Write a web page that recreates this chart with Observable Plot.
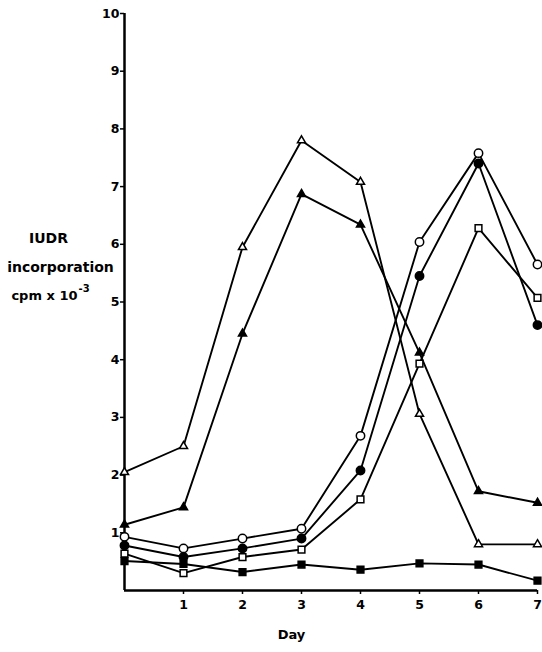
<!DOCTYPE html>
<html>
<head>
<meta charset="utf-8">
<script src="https://cdn.jsdelivr.net/npm/d3@7"></script>
<script src="https://cdn.jsdelivr.net/npm/@observablehq/plot@0.6"></script>
<style>
  html, body { margin: 0; padding: 0; background: #fff; }
  #chart svg { display: block; }
</style>
</head>
<body>
<div id="chart"></div>
<script>
const days = [0, 1, 2, 3, 4, 5, 6, 7];
const openTriangle  = [2.05, 2.5, 5.95, 7.8, 7.08, 3.06, 0.8, 0.8];
const filledTriangle = [1.14, 1.44, 4.45, 6.87, 6.34, 4.12, 1.72, 1.52];
const openCircle    = [0.93, 0.73, 0.9, 1.07, 2.68, 6.04, 7.58, 5.65];
const filledCircle  = [0.78, 0.58, 0.73, 0.9, 2.08, 5.45, 7.4, 4.6];
const openSquare    = [0.64, 0.3, 0.58, 0.71, 1.58, 3.93, 6.28, 5.07];
const filledSquare  = [0.51, 0.46, 0.32, 0.45, 0.36, 0.47, 0.45, 0.17];
const xTicks = [1, 2, 3, 4, 5, 6, 7];
const yTicks = [1, 2, 3, 4, 5, 6, 7, 8, 9, 10];
const yLabelLines = ["IUDR", "incorporation"];
const yLabelUnit = "cpm x 10";
const yLabelExp = "-3";
const xLabel = "Day";

const seriesDefs = [
  {name: "openTriangle", values: openTriangle, symbol: "triangle", filled: false, r: 3},
  {name: "filledTriangle", values: filledTriangle, symbol: "triangle", filled: true, r: 3},
  {name: "openCircle", values: openCircle, symbol: "circle", filled: false, r: 4.2},
  {name: "filledCircle", values: filledCircle, symbol: "circle", filled: true, r: 4.2},
  {name: "openSquare", values: openSquare, symbol: "square", filled: false, r: 3.8},
  {name: "filledSquare", values: filledSquare, symbol: "square", filled: true, r: 3.8}
];

const rows = seriesDefs.flatMap(s => days.map((d, i) => ({series: s.name, day: d, value: s.values[i]})));

const font = "'DejaVu Sans', 'Liberation Sans', Arial, sans-serif";

const marks = [
  Plot.axisX(xTicks, {tickSize: 4, tickPadding: 6, fontSize: 12.5, fontWeight: "bold", label: null, strokeWidth: 1.5, tickFormat: d => String(d)}),
  Plot.axisY(yTicks, {tickSize: 4, tickPadding: 1, fontSize: 12.5, fontWeight: "bold", label: null, strokeWidth: 1.5, tickFormat: d => String(d)}),
  Plot.ruleX([0], {stroke: "black", strokeWidth: 2.5}),
  Plot.ruleY([0], {stroke: "black", strokeWidth: 2.5}),
  Plot.line(rows, {x: "day", y: "value", z: "series", stroke: "black", strokeWidth: 1.9})
];
for (const s of seriesDefs) {
  marks.push(Plot.dot(days.map((d, i) => ({day: d, value: s.values[i]})), {
    x: "day", y: "value", symbol: () => s.symbol, r: s.r,
    fill: s.filled ? "black" : "white", stroke: "black", strokeWidth: 1.5
  }));
}
const yLabelOffsets = [[-76, -63], [-64, -34]];
yLabelLines.forEach((t, i) => {
  marks.push(Plot.text([t], {frameAnchor: "left", dx: yLabelOffsets[i][0], dy: yLabelOffsets[i][1],
    fontSize: 14, fontWeight: "bold", textAnchor: "middle"}));
});
marks.push(Plot.text([yLabelUnit], {frameAnchor: "left", dx: -47, dy: -6, fontSize: 13, fontWeight: "bold", textAnchor: "end"}));
marks.push(Plot.text([yLabelExp], {frameAnchor: "left", dx: -46, dy: -13, fontSize: 10, fontWeight: "bold", textAnchor: "start"}));
marks.push(Plot.text([xLabel], {frameAnchor: "bottom", dx: 291 - 330.5, dy: 48, fontSize: 13, fontWeight: "bold", textAnchor: "middle"}));

const chart = Plot.plot({
  width: 542,
  height: 652,
  marginLeft: 124,
  marginRight: 5,
  marginTop: 13,
  marginBottom: 62,
  style: {fontFamily: font, color: "black", background: "white"},
  x: {domain: [0, 7]},
  y: {domain: [0, 10]},
  marks
});
document.getElementById("chart").appendChild(chart);
</script>
</body>
</html>
